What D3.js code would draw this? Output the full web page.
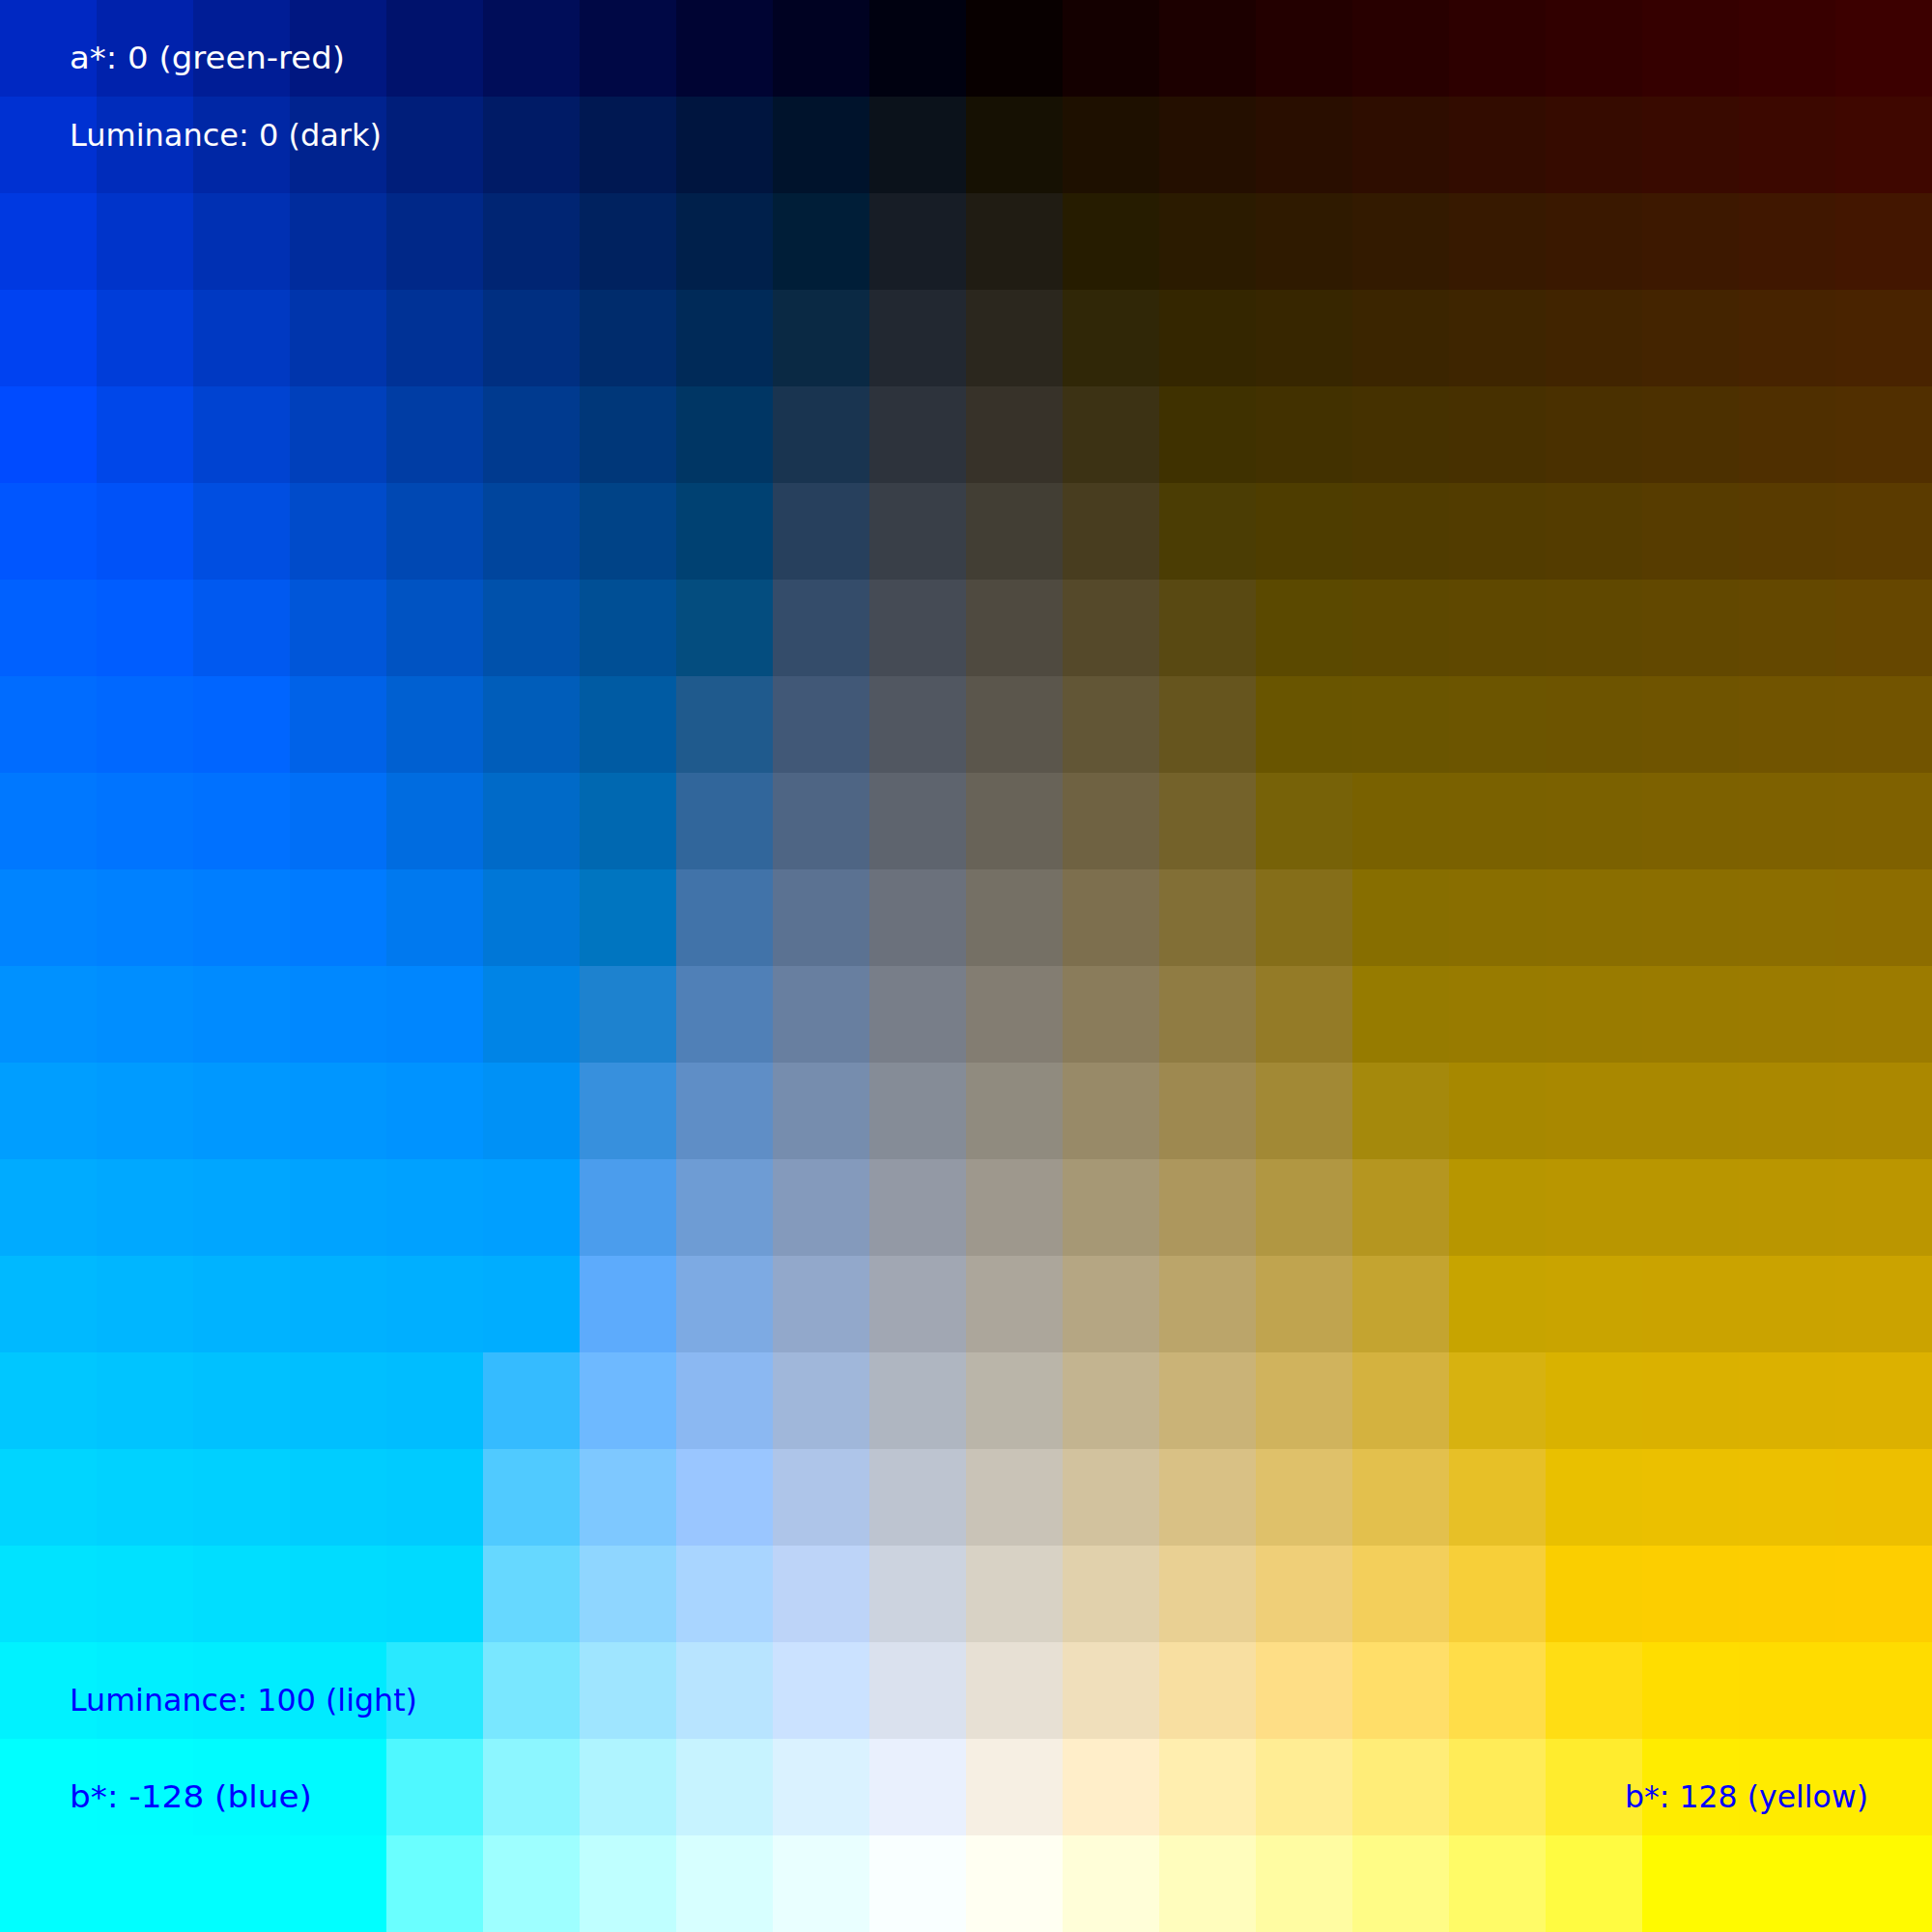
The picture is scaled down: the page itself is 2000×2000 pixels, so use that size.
<!DOCTYPE html>
<html>
<head>
<title>Lab slice at a* = 0</title>
<style>
  body { margin: 0; background: #fff; }
  svg { display: block; }
  .lbl { font-family: "DejaVu Sans", sans-serif; font-size: 32px; }
</style>
<script src="https://cdn.jsdelivr.net/npm/d3@7"></script>
</head>
<body>
<div id="chart"></div>
<script>
// rows: luminance 0 (top) .. 100 (bottom), 20 steps
var lValues = [0, 5.26, 10.53, 15.79, 21.05, 26.32, 31.58, 36.84, 42.11, 47.37,
               52.63, 57.89, 63.16, 68.42, 73.68, 78.95, 84.21, 89.47, 94.74, 100];
// columns: b* from -128 (blue) to 128 (yellow), 20 steps
var bValues = [-128, -114.53, -101.05, -87.58, -74.11, -60.63, -47.16, -33.68, -20.21, -6.74,
               6.74, 20.21, 33.68, 47.16, 60.63, 74.11, 87.58, 101.05, 114.53, 128];
var aValue = 0;

var labels = [
  {text: 'a*: 0 (green-red)',      x: 72,   y: 71,   color: '#ffffff', w: 285},
  {text: 'Luminance: 0 (dark)',    x: 72,   y: 151,  color: '#ffffff', w: 323},
  {text: 'Luminance: 100 (light)', x: 72,   y: 1771, color: '#0000ff', w: 360},
  {text: 'b*: -128 (blue)',        x: 72,   y: 1871, color: '#0000ff', w: 251},
  {text: 'b*: 128 (yellow)',       x: 1682, y: 1871, color: '#0000ff', w: 252}
];

var W = 2000, H = 2000;

// CIE Lab (D65) -> sRGB, channels clipped like the source image
var labToRgb = function(L, a, b) {
  var fy = (L + 16) / 116, fx = fy + a / 500, fz = fy - b / 200;
  var inv = function(t) { return t > 6 / 29 ? t * t * t : 3 * (6 / 29) * (6 / 29) * (t - 4 / 29); };
  var X = 0.95047 * inv(fx), Y = inv(fy), Z = 1.08883 * inv(fz);
  var r =  3.2404542 * X - 1.5371385 * Y - 0.4985314 * Z;
  var g = -0.9692660 * X + 1.8760108 * Y + 0.0415560 * Z;
  var bl = 0.0556434 * X - 0.2040259 * Y + 1.0572252 * Z;
  var gam = function(c) {
    c = Math.max(0, Math.min(1, c));
    c = c <= 0.0031308 ? 12.92 * c : 1.055 * Math.pow(c, 1 / 2.4) - 0.055;
    return Math.round(c * 255);
  };
  return d3.rgb(gam(r), gam(g), gam(bl)).formatHex();
};

var x = d3.scaleBand().domain(bValues).range([0, W]);
var y = d3.scaleBand().domain(lValues).range([0, H]);

var svg = d3.select('#chart').append('svg').attr('width', W).attr('height', H);

var cells = [];
lValues.forEach(function(L) {
  bValues.forEach(function(b) { cells.push({L: L, b: b}); });
});

svg.append('g').selectAll('rect').data(cells).enter().append('rect')
  .attr('x', function(d) { return x(d.b); })
  .attr('y', function(d) { return y(d.L); })
  .attr('width', x.bandwidth() + 0.5)
  .attr('height', y.bandwidth() + 0.5)
  .attr('fill', function(d) { return labToRgb(d.L, aValue, d.b); });

svg.append('g').selectAll('text').data(labels).enter().append('text')
  .attr('class', 'lbl')
  .attr('x', function(d) { return d.x; })
  .attr('y', function(d) { return d.y; })
  .attr('fill', function(d) { return d.color; })
  .attr('textLength', function(d) { return d.w; })
  .attr('lengthAdjust', 'spacingAndGlyphs')
  .text(function(d) { return d.text; });
</script>
</body>
</html>
